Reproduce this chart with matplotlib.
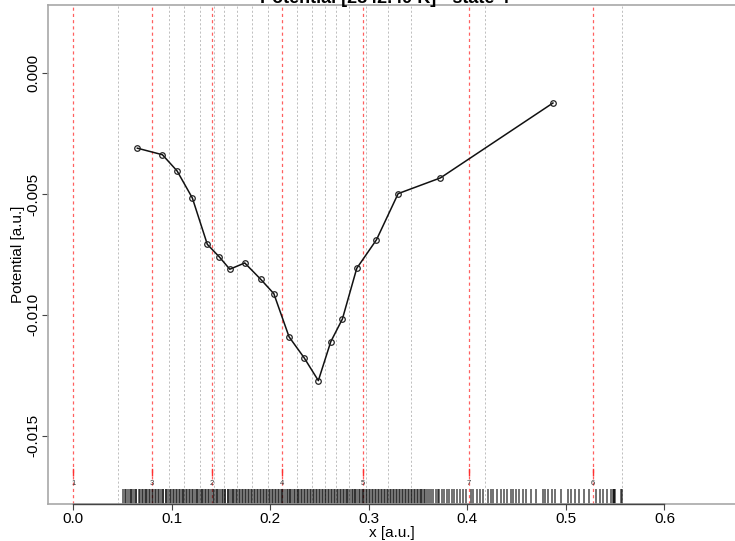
import numpy as np
import matplotlib
matplotlib.use("Agg")
import matplotlib.pyplot as plt
import matplotlib.transforms as mtransforms

plt.rcParams["font.family"] = ["Liberation Sans", "DejaVu Sans"]

# %%
## Data ##

# potential profile along x (bin centres)
x_vals = [0.0650, 0.0904, 0.1053, 0.1208, 0.1360, 0.1482, 0.1588, 0.1740,
          0.1903, 0.2035, 0.2190, 0.2342, 0.2487, 0.2613, 0.2731, 0.2877,
          0.3077, 0.3297, 0.3726, 0.4868]
pot_vals = [-0.00310, -0.00337, -0.00404, -0.00516, -0.00708, -0.00760,
            -0.00811, -0.00785, -0.00853, -0.00912, -0.01091, -0.01177,
            -0.01272, -0.01111, -0.01017, -0.00807, -0.00689, -0.00498,
            -0.00433, -0.00123]

# bin edges (grey) and state centres (red)
bin_edges = [0.0455, 0.0973, 0.1125, 0.1289, 0.1430, 0.1530, 0.1657, 0.1815,
             0.1975, 0.2266, 0.2418, 0.2555, 0.2665, 0.2797, 0.2966, 0.3190,
             0.3423, 0.4178, 0.5570]
state_x = [0.0, 0.0794, 0.1403, 0.2114, 0.2939, 0.4012, 0.5274]
state_labels = ["1", "3", "2", "4", "5", "7", "6"]

# sampled x positions shown as a rug
rug_x = [
    0.0505, 0.0526, 0.0539, 0.0558, 0.0571, 0.0590, 0.0598, 0.0617, 0.0633, 0.0641,
    0.0662, 0.0676, 0.0694, 0.0703, 0.0724, 0.0735, 0.0751, 0.0769, 0.0778, 0.0799,
    0.0810, 0.0828, 0.0841, 0.0859, 0.0868, 0.0887, 0.0906, 0.0915, 0.0936, 0.0944,
    0.0963, 0.0981, 0.0990, 0.1011, 0.1020, 0.1042, 0.1051, 0.1070, 0.1079, 0.1099,
    0.1114, 0.1126, 0.1144, 0.1157, 0.1176, 0.1185, 0.1204, 0.1217, 0.1233, 0.1251,
    0.1260, 0.1279, 0.1291, 0.1308, 0.1320, 0.1339, 0.1349, 0.1370, 0.1379, 0.1398,
    0.1414, 0.1424, 0.1446, 0.1455, 0.1473, 0.1487, 0.1505, 0.1515, 0.1536, 0.1544,
    0.1565, 0.1574, 0.1593, 0.1606, 0.1624, 0.1634, 0.1655, 0.1665, 0.1685, 0.1696,
    0.1713, 0.1725, 0.1744, 0.1753, 0.1775, 0.1784, 0.1803, 0.1816, 0.1834, 0.1845,
    0.1866, 0.1874, 0.1894, 0.1905, 0.1923, 0.1936, 0.1954, 0.1964, 0.1985, 0.1995,
    0.2014, 0.2026, 0.2043, 0.2055, 0.2075, 0.2084, 0.2105, 0.2114, 0.2133, 0.2146,
    0.2164, 0.2175, 0.2195, 0.2204, 0.2224, 0.2235, 0.2253, 0.2266, 0.2284, 0.2294,
    0.2315, 0.2325, 0.2344, 0.2356, 0.2373, 0.2385, 0.2404, 0.2414, 0.2435, 0.2445,
    0.2463, 0.2476, 0.2494, 0.2505, 0.2525, 0.2534, 0.2554, 0.2565, 0.2583, 0.2596,
    0.2614, 0.2624, 0.2645, 0.2655, 0.2674, 0.2686, 0.2703, 0.2715, 0.2734, 0.2744,
    0.2765, 0.2775, 0.2793, 0.2806, 0.2824, 0.2835, 0.2855, 0.2864, 0.2884, 0.2895,
    0.2913, 0.2926, 0.2944, 0.2954, 0.2975, 0.2985, 0.3004, 0.3016, 0.3033, 0.3045,
    0.3064, 0.3074, 0.3095, 0.3105, 0.3123, 0.3136, 0.3154, 0.3165, 0.3185, 0.3194,
    0.3214, 0.3225, 0.3243, 0.3256, 0.3274, 0.3284, 0.3305, 0.3315, 0.3334, 0.3346,
    0.3363, 0.3375, 0.3394, 0.3404, 0.3425, 0.3435, 0.3453, 0.3466, 0.3484, 0.3495,
    0.3515, 0.3524, 0.3544, 0.3555, 0.3571, 0.3592, 0.3611, 0.3634, 0.3652, 0.3677,
    0.3698, 0.3716, 0.3741, 0.3763, 0.3789, 0.3812, 0.3845, 0.3868, 0.3891, 0.3924,
    0.3958, 0.3982, 0.4035, 0.4061, 0.4098, 0.4127, 0.4155, 0.4208, 0.4236, 0.4262,
    0.4301, 0.4338, 0.4372, 0.4397, 0.4438, 0.4462, 0.4491, 0.4525, 0.4563, 0.4597,
    0.4642, 0.4695, 0.4763, 0.4789, 0.4822, 0.4856, 0.4893, 0.4947, 0.5018, 0.5052,
    0.5091, 0.5134, 0.5179, 0.5231, 0.5308, 0.5342, 0.5377, 0.5415, 0.5462, 0.5474,
    0.5483, 0.5491, 0.5502, 0.5557, 0.5571,
]

x_ticks = [0.0, 0.1, 0.2, 0.3, 0.4, 0.5, 0.6]
y_ticks = [-0.015, -0.010, -0.005, 0.000]

title = "Potential [2842.49 K] - state 4"


# %%
## Plot ##


def plot_potential():
    fig = plt.figure(figsize=(7.35, 5.41), dpi=100)
    ax = fig.add_axes([48 / 735, 1 - 504 / 541, 1 - 48 / 735, 499 / 541])

    ax.set_xlim(-0.0257, 0.6716)
    ax.set_ylim(-0.017827, 0.002827)

    # box in light grey, R-style
    for side in ["left", "bottom", "top"]:
        ax.spines[side].set_color("#a8a8a8")
        ax.spines[side].set_linewidth(1.2)
    ax.spines["right"].set_visible(False)

    trans = mtransforms.blended_transform_factory(ax.transData, ax.transAxes)

    # bin edges
    for xe in bin_edges:
        ax.axvline(xe, color="#b4b4b4", lw=0.6, ls=(0, (2.5, 2.5)), zorder=1)

    # states: dashed red line, short solid tick and a small number
    for xs, lab in zip(state_x, state_labels):
        ax.axvline(xs, color="#ff6060", lw=0.9, ls=(0, (2.5, 2.5)), zorder=1.5)
        ax.plot([xs, xs], [0.058, 0.071], transform=trans, color="#ff3030",
                lw=1.0, zorder=2)
        ax.text(xs, 0.042, lab, transform=trans, fontsize=5.5, ha="center",
                va="center", color="#333333")

    # rug of sampled positions
    ax.vlines(rug_x, 0.0, 0.031, transform=trans, color="black", lw=1.3,
              alpha=0.6, zorder=2)

    # axis line between first and last tick
    ax.plot([x_ticks[0], x_ticks[-1]], [0, 0], transform=trans, color="#444444",
            lw=1.0, clip_on=False, zorder=3)

    ax.plot(x_vals, pot_vals, color="#111111", lw=1.1, marker="o", ms=4,
            mfc="none", mec="#222222", mew=0.9, zorder=4)

    ax.set_xticks(x_ticks)
    ax.set_xticklabels([f"{t:.1f}" for t in x_ticks])
    ax.set_yticks(y_ticks)
    ax.set_yticklabels([f"{t:.3f}" for t in y_ticks], rotation=90, va="center")
    ax.tick_params(axis="both", direction="out", length=4, width=0.8,
                   color="#444444", labelsize=11, pad=1.5)

    ax.set_xlabel("x [a.u.]", fontsize=11, labelpad=0)
    ax.set_ylabel("Potential [a.u.]", fontsize=11, labelpad=1)

    # title sits partly above the canvas
    fig.text(385 / 735, 1 - 3 / 541, title, ha="center", va="baseline",
             fontsize=13, fontweight="bold")

    fig.savefig("out.png", dpi=100)


# %%
## Main ##

if __name__ == "__main__":
    plot_potential()
